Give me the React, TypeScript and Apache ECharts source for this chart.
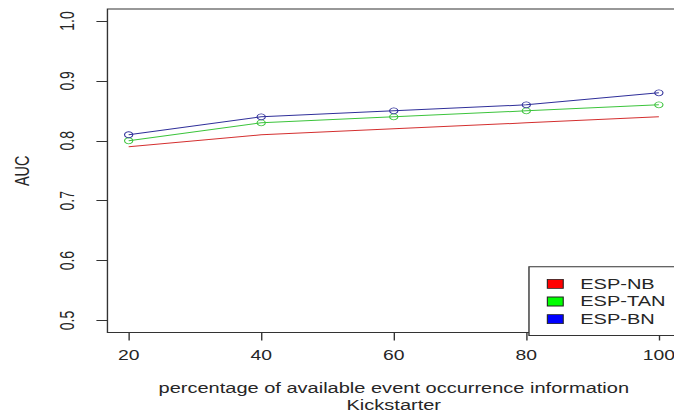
import React, { useEffect, useRef } from "react";
import * as echarts from "echarts";

// Percentage of available event occurrence information (x) vs. AUC (y)
const percentages = [20, 40, 60, 80, 100];
const aucNB = [0.79, 0.81, 0.82, 0.83, 0.84];
const aucTAN = [0.8, 0.83, 0.84, 0.85, 0.86];
const aucBN = [0.81, 0.84, 0.85, 0.86, 0.88];

const seriesNames = ["ESP-NB", "ESP-TAN", "ESP-BN"];
const yTicks = [0.5, 0.6, 0.7, 0.8, 0.9, 1.0];
const xTicks = [20, 40, 60, 80, 100];

// The chart is laid out at a narrower base width and stretched horizontally.
const BASE_W = 488;
const H = 417;
const STRETCH = 674 / BASE_W;

const FONT = "'Liberation Sans', Arial, sans-serif";
const INK = "#262626";

const pairs = (ys: number[]) => percentages.map((x, i) => [x, ys[i]]);

export default function App() {
  const ref = useRef<HTMLDivElement>(null);

  useEffect(() => {
    if (!ref.current) return;
    const chart = echarts.init(ref.current, null, { renderer: "svg" });
    chart.setOption({
      animation: false,
      backgroundColor: "#fff",
      textStyle: { fontFamily: FONT, color: INK },
      grid: {
        left: 77.8,
        right: -4.4,
        top: 9,
        bottom: 84.5,
        show: true,
        borderColor: "#333",
        borderWidth: 1,
        backgroundColor: "transparent",
        containLabel: false,
        outerBoundsMode: "none",
      },
      xAxis: {
        type: "value",
        min: 16.8,
        max: 103.2,
        name: "percentage of available event occurrence information\nKickstarter",
        nameLocation: "middle",
        nameGap: 47,
        nameTextStyle: { fontFamily: FONT, fontSize: 14.5, color: INK, lineHeight: 17 },
        axisLine: { show: false },
        splitLine: { show: false },
        axisTick: {
          show: true,
          inside: false,
          length: 8,
          customValues: xTicks,
          lineStyle: { color: "#333", width: 1 },
        },
        axisLabel: {
          show: true,
          margin: 16,
          fontSize: 14,
          fontFamily: FONT,
          color: INK,
          customValues: xTicks,
          formatter: (v: number) => String(v),
        },
      },
      yAxis: {
        type: "value",
        min: 0.48,
        max: 1.02,
        name: "AUC",
        nameLocation: "middle",
        nameGap: 54,
        nameRotate: 90,
        nameTextStyle: { fontFamily: FONT, fontSize: 14.5, color: INK },
        axisLine: { show: false },
        splitLine: { show: false },
        axisTick: {
          show: true,
          inside: false,
          length: 8,
          customValues: yTicks,
          lineStyle: { color: "#333", width: 1 },
        },
        axisLabel: {
          show: true,
          rotate: 90,
          margin: 22,
          fontSize: 14,
          fontFamily: FONT,
          color: INK,
          customValues: yTicks,
          formatter: (v: number) => v.toFixed(1),
        },
      },
      legend: {
        orient: "vertical",
        left: 383,
        top: 266.7,
        padding: [9.6, 8.7, 8.8, 12.9],
        itemWidth: 11.5,
        itemHeight: 9,
        itemGap: 2.7,
        backgroundColor: "#fff",
        borderColor: "#333",
        borderWidth: 1,
        borderRadius: 0,
        selectedMode: false,
        textStyle: {
          fontFamily: FONT,
          fontSize: 14.5,
          color: INK,
          lineHeight: 14,
          padding: [0, 0, 0, 7.3],
        },
        data: [
          { name: seriesNames[0], icon: "rect", itemStyle: { color: "#ff0000", borderColor: "#222", borderWidth: 0.8 } },
          { name: seriesNames[1], icon: "rect", itemStyle: { color: "#00ff00", borderColor: "#222", borderWidth: 0.8 } },
          { name: seriesNames[2], icon: "rect", itemStyle: { color: "#0000ff", borderColor: "#222", borderWidth: 0.8 } },
        ],
      },
      series: [
        {
          name: seriesNames[0],
          type: "line",
          data: pairs(aucNB),
          showSymbol: false,
          symbol: "none",
          lineStyle: { color: "#d43030", width: 1 },
          itemStyle: { color: "#d43030" },
        },
        {
          name: seriesNames[1],
          type: "line",
          data: pairs(aucTAN),
          symbol: "circle",
          symbolSize: 6,
          lineStyle: { color: "#3cc43c", width: 1 },
          itemStyle: { color: "rgba(255,255,255,0)", borderColor: "#3cc43c", borderWidth: 0.8 },
        },
        {
          name: seriesNames[2],
          type: "line",
          data: pairs(aucBN),
          symbol: "circle",
          symbolSize: 6,
          lineStyle: { color: "#30309a", width: 1 },
          itemStyle: { color: "rgba(255,255,255,0)", borderColor: "#30309a", borderWidth: 0.8 },
        },
      ],
    });
    return () => chart.dispose();
  }, []);

  return (
    <div
      ref={ref}
      style={{
        position: "absolute",
        left: 0,
        top: 0,
        width: BASE_W,
        height: H,
        transform: `scaleX(${STRETCH})`,
        transformOrigin: "0 0",
      }}
    />
  );
}
